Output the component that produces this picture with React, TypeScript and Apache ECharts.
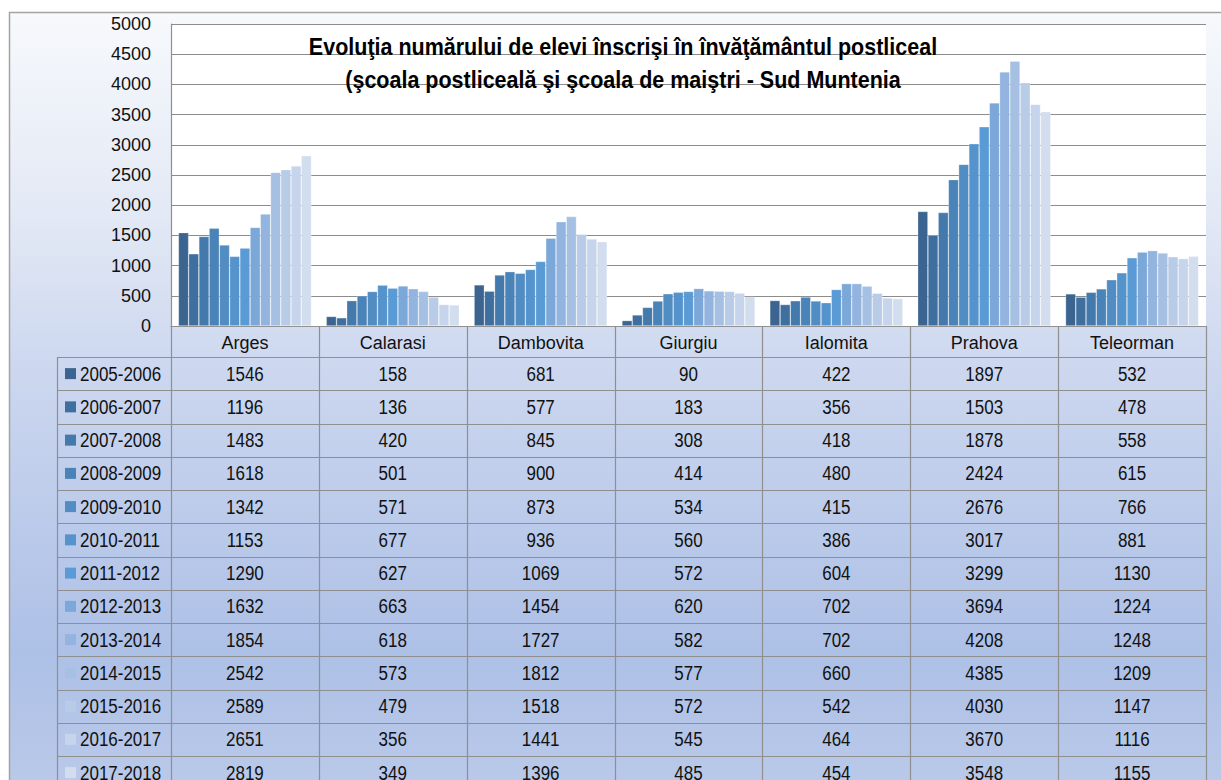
import React, { useEffect, useRef } from "react";
import * as echarts from "echarts";

const W = 1221;
const H = 780;

const counties = ["Arges", "Calarasi", "Dambovita", "Giurgiu", "Ialomita", "Prahova", "Teleorman"];
const years = [
  "2005-2006", "2006-2007", "2007-2008", "2008-2009", "2009-2010", "2010-2011", "2011-2012",
  "2012-2013", "2013-2014", "2014-2015", "2015-2016", "2016-2017", "2017-2018",
];
const arges = [1546, 1196, 1483, 1618, 1342, 1153, 1290, 1632, 1854, 2542, 2589, 2651, 2819];
const calarasi = [158, 136, 420, 501, 571, 677, 627, 663, 618, 573, 479, 356, 349];
const dambovita = [681, 577, 845, 900, 873, 936, 1069, 1454, 1727, 1812, 1518, 1441, 1396];
const giurgiu = [90, 183, 308, 414, 534, 560, 572, 620, 582, 577, 572, 545, 485];
const ialomita = [422, 356, 418, 480, 415, 386, 604, 702, 702, 660, 542, 464, 454];
const prahova = [1897, 1503, 1878, 2424, 2676, 3017, 3299, 3694, 4208, 4385, 4030, 3670, 3548];
const teleorman = [532, 478, 558, 615, 766, 881, 1130, 1224, 1248, 1209, 1147, 1116, 1155];
const byCounty = [arges, calarasi, dambovita, giurgiu, ialomita, prahova, teleorman];

const colors = [
  "#3b6590", "#3f6f9f", "#4479ac", "#4a83b8", "#518cc2", "#5593cc", "#5b9bd5",
  "#7ba7d9", "#93b4de", "#a6c0e3", "#b8cce8", "#c6d5ec", "#d2ddee",
];

const titleLines = [
  "Evoluţia numărului de elevi înscrişi în învăţământul postliceal",
  "(şcoala postliceală şi şcoala de maiştri - Sud Muntenia",
];

const FONT = "'Liberation Sans', Arial, sans-serif";

export default function App() {
  const ref = useRef<HTMLDivElement>(null);
  useEffect(() => {
    if (!ref.current) return;
    const chart = echarts.init(ref.current, undefined, { renderer: "svg" });

    const plotL = 171;
    const plotR = 1206;
    const plotT = 24;
    const plotB = 326;
    const colW = (plotR - plotL) / counties.length;
    const headerB = 357;
    const rowH = 33.25;
    const rowLabelL = 57;
    const lineColor = "#8f8f8f";
    const textScaleY = 1.15;

    const graphics: any[] = [];
    graphics.push({
      type: "rect",
      z: -100,
      shape: { x: 9.5, y: 12.5, width: 1260, height: 800 },
      style: {
        fill: new echarts.graphic.LinearGradient(0, 0, 0, 1, [
          { offset: 0, color: "#f7f9fc" },
          { offset: 0.25, color: "#e3e9f5" },
          { offset: 0.45, color: "#ccd7ef" },
          { offset: 0.8, color: "#adc0e6" },
          { offset: 1, color: "#bccbea" },
        ]),
        stroke: "#a3a3a3",
        lineWidth: 1.5,
      },
    });
    const nRows = years.length;
    const tableBottom = headerB + rowH * nRows;
    for (let j = 0; j <= counties.length; j++) {
      const x = Math.round(plotL + colW * j) + 0.5;
      graphics.push({
        type: "line",
        z: 10,
        shape: { x1: x, y1: plotB, x2: x, y2: tableBottom },
        style: { stroke: lineColor, lineWidth: 1.2 },
      });
    }
    graphics.push({
      type: "line",
      z: 10,
      shape: { x1: rowLabelL + 0.5, y1: headerB, x2: rowLabelL + 0.5, y2: tableBottom },
      style: { stroke: lineColor, lineWidth: 1.2 },
    });
    for (let i = 0; i <= nRows; i++) {
      const y = Math.round(headerB + rowH * i) + 0.5;
      graphics.push({
        type: "line",
        z: 10,
        shape: { x1: rowLabelL, y1: y, x2: plotR, y2: y },
        style: { stroke: lineColor, lineWidth: 1.2 },
      });
    }
    years.forEach((yr, i) => {
      const cy = headerB + rowH * i + rowH / 2;
      graphics.push({
        type: "rect",
        z: 11,
        shape: { x: 65, y: cy - 5.5, width: 11, height: 11 },
        style: { fill: colors[i] },
      });
      graphics.push({
        type: "text",
        z: 11,
        x: 80,
        y: cy,
        scaleY: textScaleY,
        style: {
          x: 0, y: 0, text: yr, fill: "#111", font: `17px ${FONT}`,
          textAlign: "left", textVerticalAlign: "middle",
        },
      });
      byCounty.forEach((vals, j) => {
        graphics.push({
          type: "text",
          z: 11,
          x: plotL + colW * (j + 0.5),
          y: cy,
          scaleY: textScaleY,
          style: {
            x: 0, y: 0, text: String(vals[i]), fill: "#111",
            font: `17px ${FONT}`, textAlign: "center", textVerticalAlign: "middle",
          },
        });
      });
    });
    titleLines.forEach((t, k) => {
      graphics.push({
        type: "text",
        z: 20,
        x: 623,
        y: 47 + k * 33,
        scaleY: 1.1,
        style: {
          x: 0, y: 0, text: t, fill: "#000",
          font: `bold 21.5px ${FONT}`, textAlign: "center", textVerticalAlign: "middle",
        },
      });
    });

    chart.setOption({
      animation: false,
      grid: {
        left: plotL, right: W - plotR, top: plotT, bottom: H - plotB,
        show: true, backgroundColor: "#ffffff", borderWidth: 0,
      },
      xAxis: {
        type: "category",
        data: counties,
        axisLine: { show: true, lineStyle: { color: lineColor, width: 1.2 } },
        axisTick: { show: false },
        axisLabel: { color: "#111", fontFamily: FONT, fontSize: 18, margin: 8 },
      },
      yAxis: {
        type: "value",
        min: 0, max: 5000, interval: 500,
        axisLine: { show: true, lineStyle: { color: lineColor, width: 1.2 } },
        axisTick: { show: false },
        splitLine: { lineStyle: { color: "#8c8c8c", width: 1.2 } },
        axisLabel: {
          color: "#111", fontFamily: FONT, fontSize: 18, margin: 20,
          formatter: (v: number) => String(v),
        },
      },
      series: years.map((yr, i) => ({
        name: yr,
        type: "bar",
        data: byCounty.map((v) => v[i]),
        barGap: "0%",
        barCategoryGap: "10%",
        itemStyle: { color: colors[i], borderColor: "rgba(255,255,255,0.45)", borderWidth: 0.6 },
      })),
      graphic: { elements: graphics },
    });
    return () => chart.dispose();
  }, []);
  return (
    <div style={{ position: "fixed", left: 0, top: 0, width: W, height: H, background: "#fff" }}>
      <div ref={ref} style={{ width: W, height: H }} />
    </div>
  );
}
